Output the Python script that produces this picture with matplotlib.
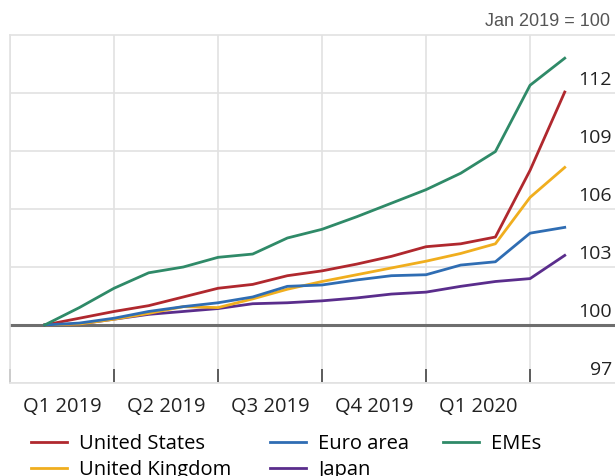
import numpy as np
from matplotlib import pyplot as plt

plt.rcParams['font.family'] = ['Open Sans', 'DejaVu Sans']

# monthly index, Jan 2019 = 100 (Jan 2019 .. Apr 2020)
months = np.arange(1, 17)
united_states = [100, 100.35, 100.7, 101.0, 101.45, 101.9, 102.1, 102.55, 102.8, 103.15,
                 103.55, 104.05, 104.2, 104.55, 108.0, 112.05]
euro_area = [100, 100.1, 100.35, 100.7, 100.95, 101.15, 101.45, 102.0, 102.07, 102.33,
             102.55, 102.6, 103.1, 103.27, 104.75, 105.05]
emes = [100, 100.9, 101.9, 102.7, 103.0, 103.5, 103.67, 104.5, 104.95, 105.6,
        106.3, 107.0, 107.85, 108.97, 112.4, 113.8]
united_kingdom = [100, 100.05, 100.3, 100.6, 100.95, 100.9, 101.35, 101.85, 102.25, 102.6,
                  102.95, 103.3, 103.7, 104.2, 106.6, 108.15]
japan = [100, 100.05, 100.3, 100.55, 100.7, 100.85, 101.1, 101.15, 101.25, 101.4,
         101.6, 101.7, 102.0, 102.25, 102.4, 103.6]

quarter_labels = ["Q1 2019", "Q2 2019", "Q3 2019", "Q4 2019", "Q1 2020"]
y_ticks = [97, 100, 103, 106, 109, 112]

fig = plt.figure(figsize=(6.15, 4.76), dpi=100)
ax = fig.add_axes([10 / 615, 1 - 383 / 476, 605 / 615, 348 / 476])

# (label, values, colour, zorder)
series = [
    ("United States", united_states, "#b0282e", 5),
    ("United Kingdom", united_kingdom, "#f0ae1e", 4),
    ("Euro area", euro_area, "#2f6db3", 6),
    ("Japan", japan, "#5a2d8c", 3),
    ("EMEs", emes, "#2f8a68", 7),
]
lines = {}
for name, vals, col, z in series:
    lines[name], = ax.plot(months, vals, color=col, lw=2.0, label=name, zorder=z,
                           solid_joinstyle='round')

ax.axhline(100, color="#6e6e6e", lw=2.2, zorder=2)

ax.set_xlim(0, 17.45)
ax.set_ylim(97, 115)

ax.set_xticks(np.arange(0, 16, 3))
ax.set_xticks(np.arange(1.5, 15, 3), minor=True)
ax.set_xticklabels([])
ax.set_xticklabels(quarter_labels, minor=True)
ax.tick_params(axis="x", which="major", direction="in", length=10, width=1.2,
               color="#444444")
ax.tick_params(axis="x", which="minor", length=0, pad=10, labelsize=14.5,
               labelcolor="#222222")
ax.set_yticks(y_ticks)
ax.tick_params(axis="y", length=0, labelleft=False)
ax.grid(True, which="major", color="#e2e2e2", lw=1.2, zorder=0)

for v in y_ticks:
    ax.text(0.995, v + 0.2, str(v), transform=ax.get_yaxis_transform(),
            ha="right", va="bottom", fontsize=14, color="#222222")

for side in ["left", "top", "bottom", "right"]:
    ax.spines[side].set_color("#e2e2e2")
    ax.spines[side].set_linewidth(1.2)
ax.spines["right"].set_visible(False)

fig.text(610 / 615, 1 - 22 / 476, "Jan 2019 = 100", ha="right", va="center",
         fontsize=13, color="#555555", family="Liberation Sans")

# legend laid out as three separate columns
legend_cols = [
    (["United States", "United Kingdom"], 31),
    (["Euro area", "Japan"], 270),
    (["EMEs"], 443),
]
for names, x0 in legend_cols:
    fig.legend([lines[n] for n in names], names, loc="upper left",
               bbox_to_anchor=(x0 / 615, 1 - 434 / 476), frameon=False,
               fontsize=14.5, handlelength=1.8, handletextpad=0.6,
               labelspacing=0.32, borderaxespad=0, borderpad=0)

fig.savefig("out.png", dpi=100)
